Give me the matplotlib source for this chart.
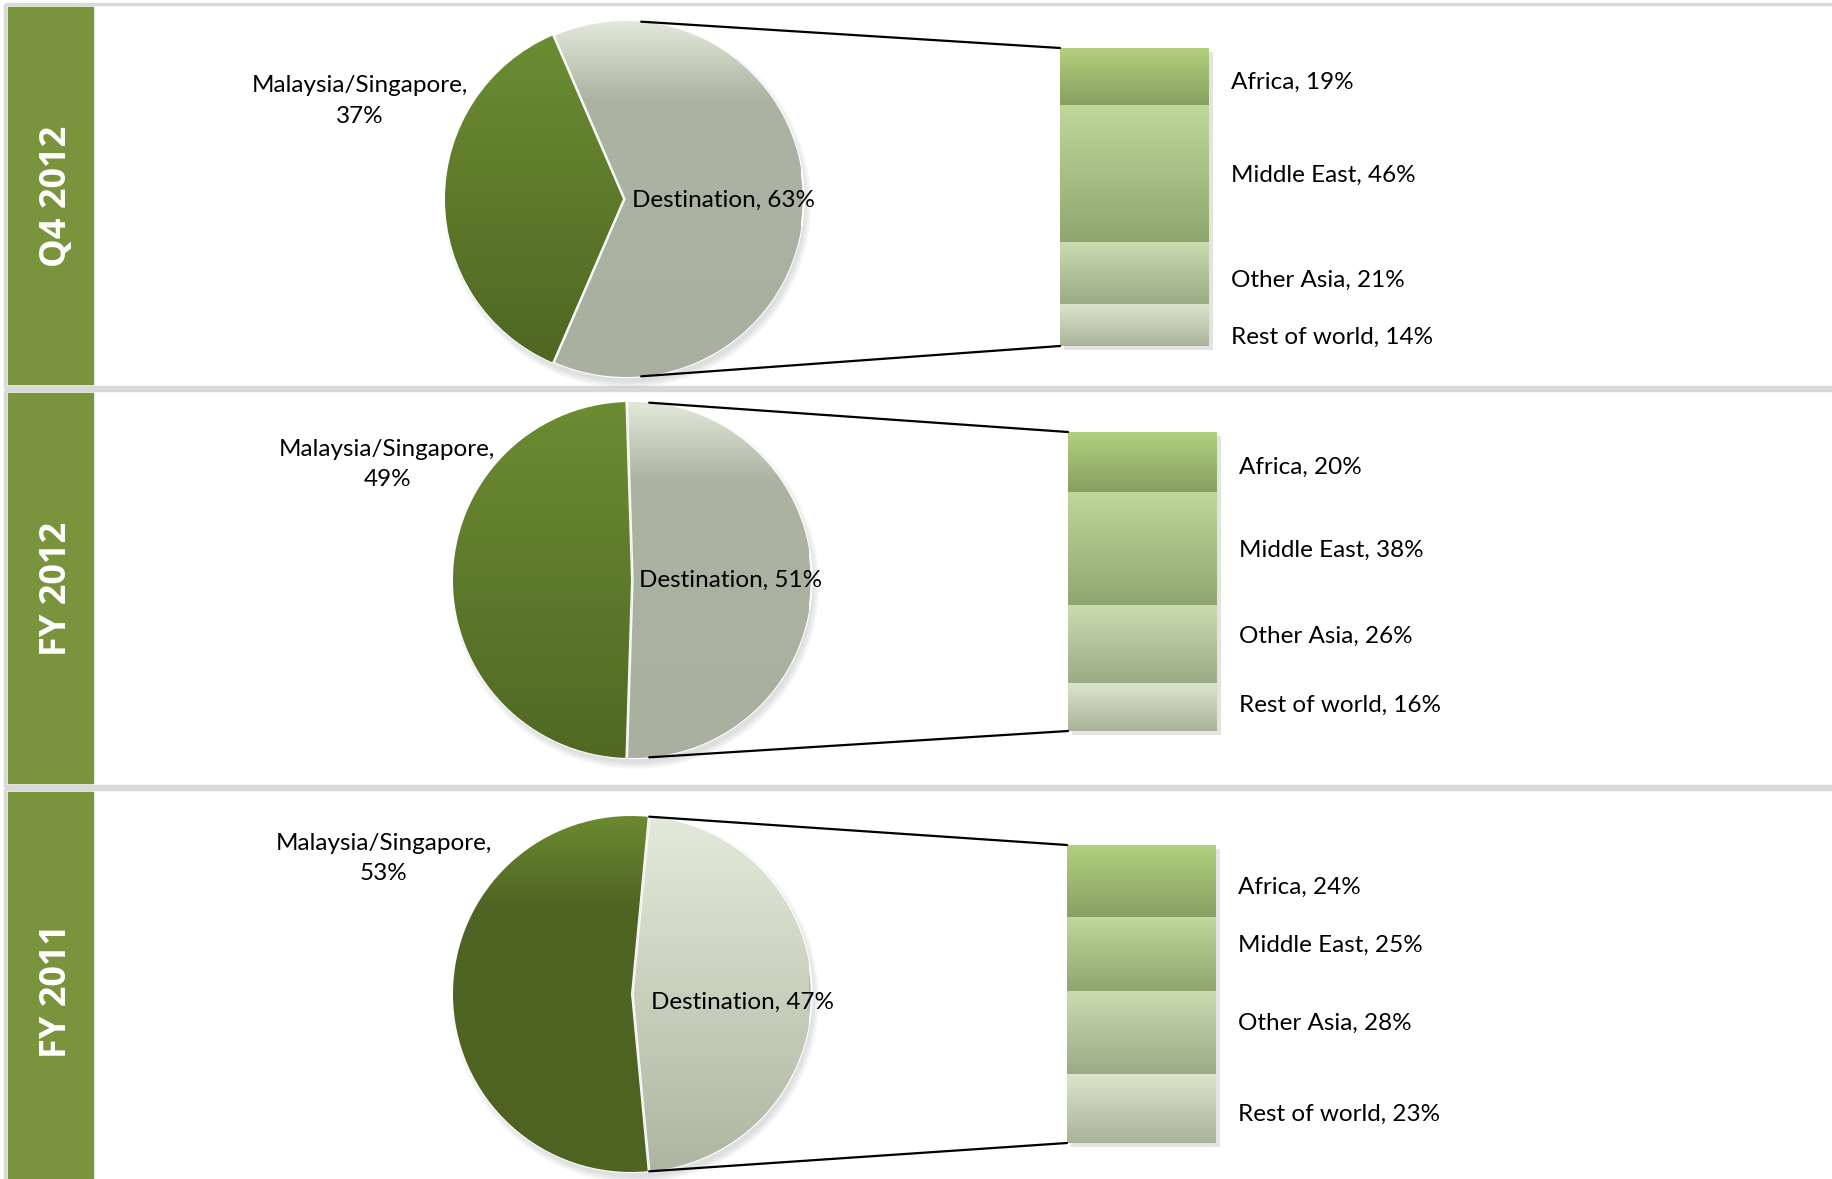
import numpy as np
import matplotlib
matplotlib.use('Agg')
import matplotlib.pyplot as plt
from matplotlib.colors import LinearSegmentedColormap
from matplotlib.patches import Rectangle, Circle
from matplotlib.patches import ConnectionPatch

# data
periods = ['Q4 2012', 'FY 2012', 'FY 2011']
malaysia_share = [37, 49, 53]
destination_share = [63, 51, 47]
pie_names = ['Malaysia/Singapore', 'Destination']
regions = ['Africa', 'Middle East', 'Other Asia', 'Rest of world']
africa = [19, 20, 24]
middle_east = [46, 38, 25]
other_asia = [21, 26, 28]
rest_of_world = [14, 16, 23]

W, H = 1833, 1179
plt.rcParams['font.family'] = ['Lato', 'DejaVu Sans']

# layout in pixels
panel_top = [4, 390, 789]
panel_bot = [387, 786, 1190]
pie_center = [(623, 199), (631, 580), (631, 994)]
pie_r = 178
bar_box = [(1060, 48, 149, 298), (1068, 432, 149, 299), (1067, 845, 149, 298)]
mal_lbl = [(-1.48, 0.55), (-1.37, 0.65), (-1.39, 0.76)]
dst_lbl = [(0.05, -0.01), (0.045, 0.0), (0.11, -0.045)]
# small nudges (pixels, down positive) excel applied to the bar labels
lbl_nudge = [[6, 2, 7, 12], [5, 2, -8, -2], [7, -8, -9, 6]]

mal_grad = [[(0, '#6D8E34'), (1, '#4E6521')],
            [(0, '#6C8C33'), (1, '#506823')],
            [(0, '#6B8A30'), (0.25, '#506523'), (1, '#4E6221')]]
dst_grad = [[(0, '#E3E9DA'), (0.22, '#ACB3A2'), (1, '#A9B09F')],
            [(0, '#E3E9DA'), (0.22, '#ACB3A2'), (1, '#A9B09F')],
            [(0, '#E3EAD9'), (1, '#AEB5A2')]]
seg_grad = [[(0, '#B3D07E'), (1, '#87A062')],
            [(0, '#C1D89B'), (1, '#8FA66F')],
            [(0, '#CBDCB0'), (1, '#9AAB86')],
            [(0, '#DAE5CC'), (1, '#A8B39A')]]

fig = plt.figure(figsize=(W / 100, H / 100), dpi=100)
fig.patch.set_facecolor('white')


def px_axes(x0, y0, w, h):
    return fig.add_axes([x0 / W, 1 - (y0 + h) / H, w / W, h / H])


def grad_img(ax, stops, extent, clip):
    cmap = LinearSegmentedColormap.from_list('g', stops)
    g = np.linspace(0, 1, 256).reshape(-1, 1)
    im = ax.imshow(g, cmap=cmap, extent=extent, aspect='auto',
                   origin='upper', zorder=clip.get_zorder() + 0.1)
    im.set_clip_path(clip)
    return im


# background: frames and side labels
bg = fig.add_axes([0, 0, 1, 1])
bg.set_xlim(0, W)
bg.set_ylim(H, 0)
bg.axis('off')
for i, p in enumerate(periods):
    t, b = panel_top[i], panel_bot[i]
    bg.add_patch(Rectangle((5, t), W + 10, b - t, fill=False,
                           edgecolor='#D9D9D9', lw=2.5))
    bg.add_patch(Rectangle((8.5, t + 3), 85, b - t - 6, color='#79943D'))
    bg.text(57, (t + b) / 2 + 1, p, rotation=90, color='white',
            fontsize=26, fontweight='bold', family='Open Sans',
            ha='center', va='center')

blocks = np.array([africa, middle_east, other_asia, rest_of_world]).T
line_ang = np.deg2rad(85)
fs = 17.5

for i in range(3):
    cx, cy = pie_center[i]
    pad = 1.1
    ax = px_axes(cx - pie_r * pad, cy - pie_r * pad, 2 * pie_r * pad, 2 * pie_r * pad)
    m = malaysia_share[i]
    d = destination_share[i]
    # soft shadow
    for k in range(5):
        ax.add_patch(Circle((0.025, -0.03), 1.0 + 0.008 * k, color='#808080',
                            alpha=0.05, lw=0, zorder=0))
    wedges, _ = ax.pie([m, d], startangle=180 - 1.8 * m, counterclock=True,
                       explode=[0, 0.015], radius=1,
                       colors=['#5F7D2B', '#ACB3A2'],
                       wedgeprops=dict(edgecolor='white', linewidth=1.5))
    grad_img(ax, mal_grad[i], (-1, 1, -1, 1), wedges[0])
    grad_img(ax, dst_grad[i], (-1, 1, -1, 1), wedges[1])
    ax.set_xlim(-pad, pad)
    ax.set_ylim(-pad, pad)
    ax.axis('off')
    ax.text(mal_lbl[i][0], mal_lbl[i][1], '%s,\n%d%%' % (pie_names[0], m),
            ha='center', va='center', fontsize=fs, linespacing=1.55, zorder=5)
    ax.text(dst_lbl[i][0], dst_lbl[i][1], '%s, %d%%' % (pie_names[1], d),
            ha='left', va='center', fontsize=fs, zorder=5)

    # stacked bar
    bx, by, bw, bh = bar_box[i]
    bax = px_axes(bx, by, bw, bh)
    bax.set_xlim(-0.5, 0.5)
    bax.set_ylim(100, 0)
    bax.axis('off')
    bax.add_patch(Rectangle((-0.47, 1.2), 1.0, 100, color='#909090',
                            alpha=0.25, lw=0, zorder=0, clip_on=False))
    cum = 0
    for j, v in enumerate(blocks[i]):
        bar = bax.bar(0, v, bottom=cum, width=1, color='#A0B880', lw=0)[0]
        grad_img(bax, seg_grad[j], (-0.5, 0.5, cum + v, cum), bar)
        bax.annotate('%s, %d%%' % (regions[j], v), xy=(0.5, cum + v / 2),
                     xytext=(22, -lbl_nudge[i][j]), textcoords='offset pixels',
                     ha='left', va='center', fontsize=fs,
                     annotation_clip=False)
        cum += v
    bax.set_xlim(-0.5, 0.5)
    bax.set_ylim(100, 0)

    for sgn, yb in [(1, 0), (-1, 100)]:
        con = ConnectionPatch(xyA=(np.cos(line_ang) + 0.015, sgn * np.sin(line_ang)),
                              coordsA=ax.transData,
                              xyB=(-0.5, yb), coordsB=bax.transData,
                              color='black', lw=1.6, zorder=10)
        fig.add_artist(con)

fig.savefig('out.png', dpi=100, facecolor='white')
